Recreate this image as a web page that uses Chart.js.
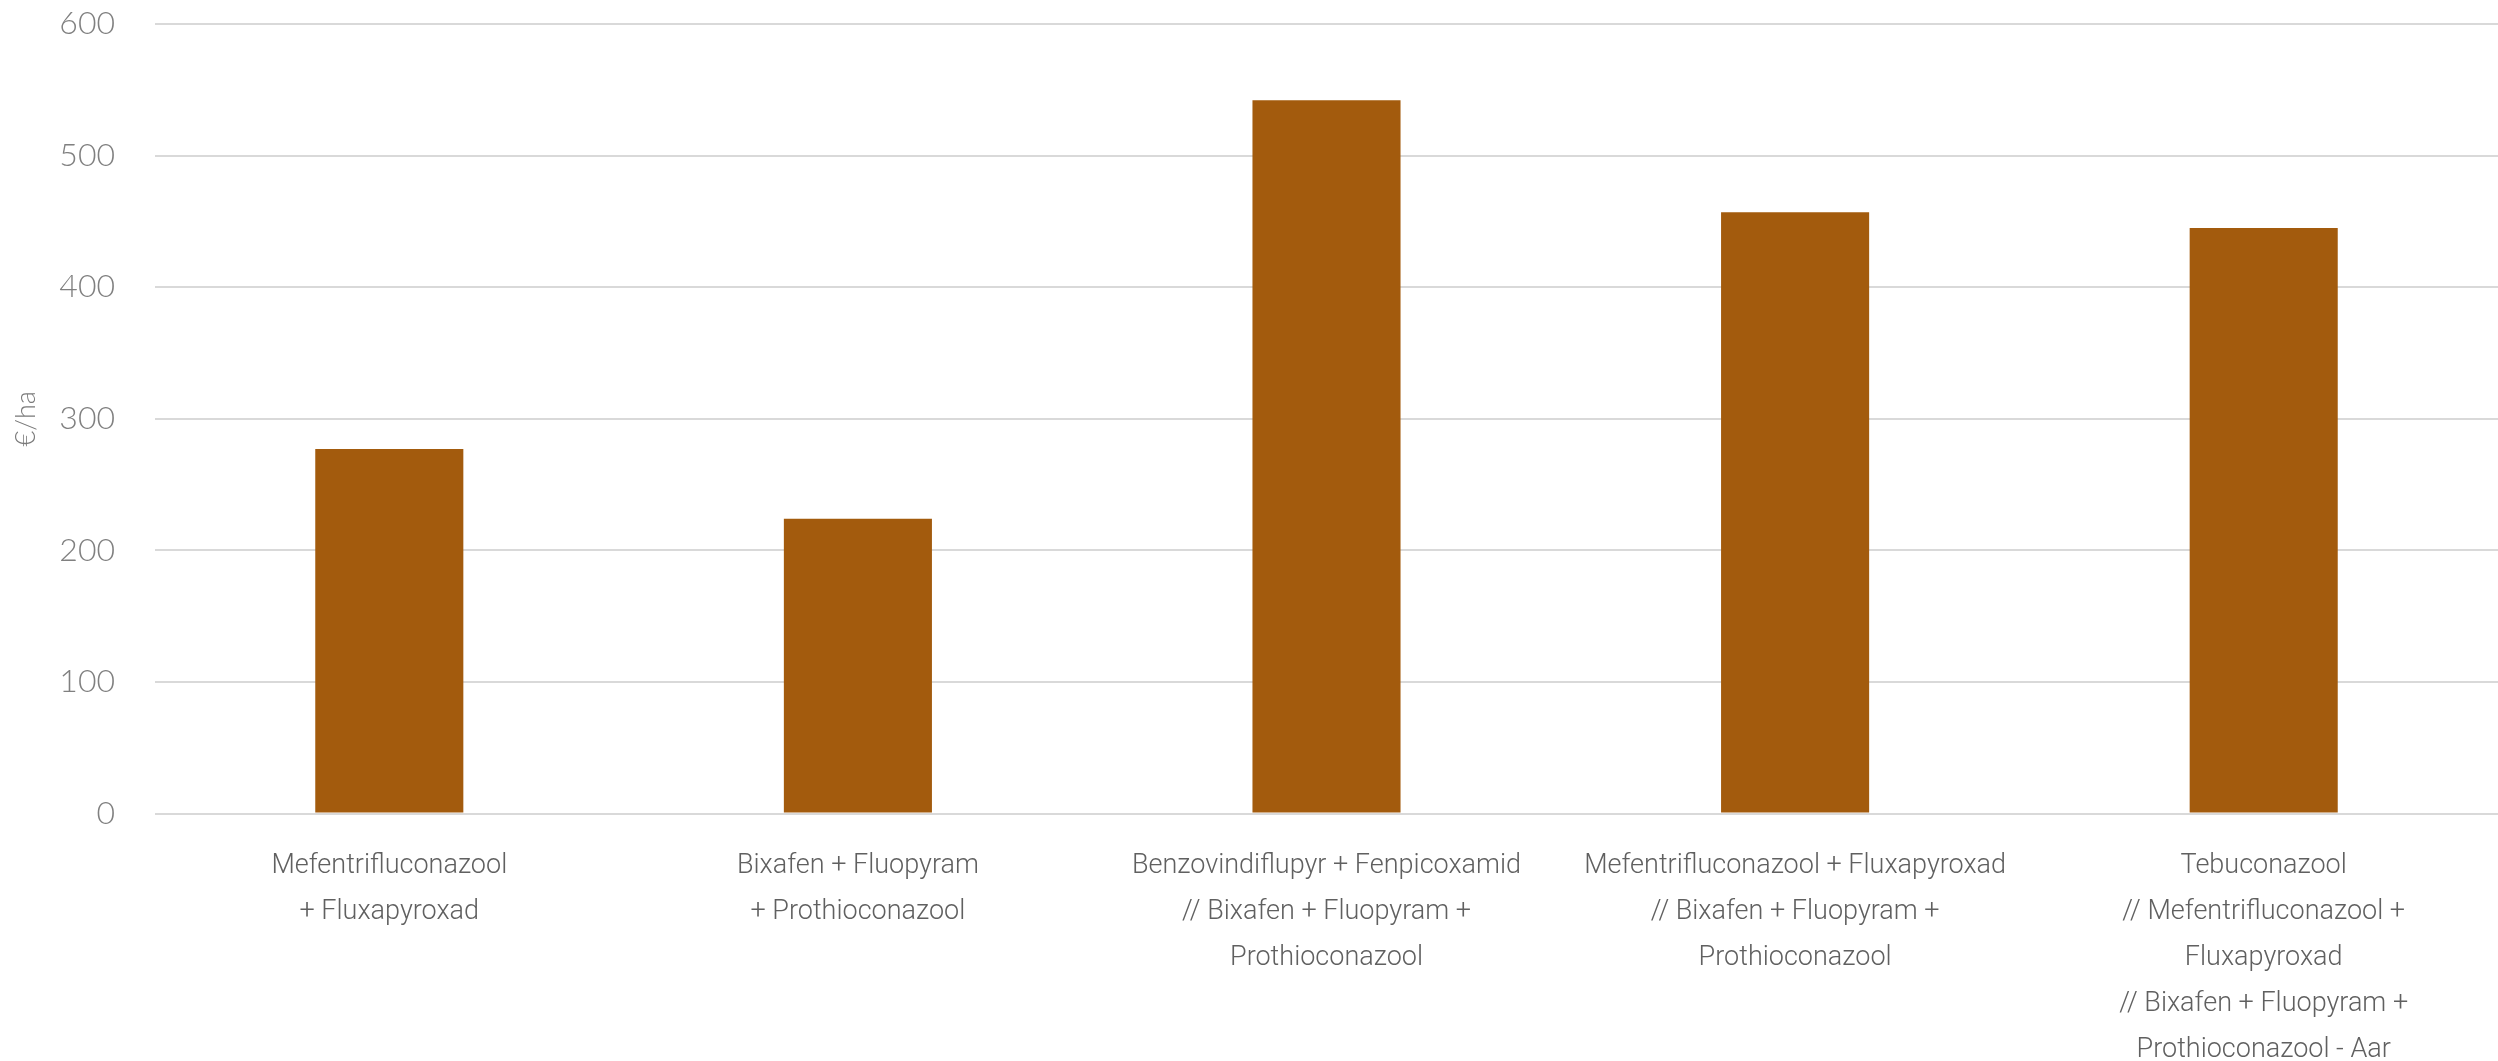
<!DOCTYPE html>
<html>
<head>
<meta charset="utf-8">
<script src="https://cdn.jsdelivr.net/npm/chart.js@4/dist/chart.umd.min.js"></script>
<style>
  body { margin: 0; background: #fff; }
</style>
</head>
<body>
<canvas id="myChart" width="2498" height="1061"></canvas>
<script>
const categories = [
    ["Mefentrifluconazool", "+ Fluxapyroxad"],
    ["Bixafen + Fluopyram", "+ Prothioconazool"],
    ["Benzovindiflupyr + Fenpicoxamid", "// Bixafen + Fluopyram +", "Prothioconazool"],
    ["Mefentrifluconazool + Fluxapyroxad", "// Bixafen + Fluopyram +", "Prothioconazool"],
    ["Tebuconazool", "// Mefentrifluconazool +", "Fluxapyroxad", "// Bixafen + Fluopyram +", "Prothioconazool - Aar"]
];
const costs = [277, 224, 542, 457, 445];
const yTicks = [0, 100, 200, 300, 400, 500, 600];

const ctx = document.getElementById('myChart').getContext('2d');
new Chart(ctx, {
    type: 'bar',
    data: {
        labels: categories,
        datasets: [
            {
                data: costs,
                backgroundColor: '#a35b0d',
                categoryPercentage: 1,
                barPercentage: 0.316,
            },
        ],
    },
    options: {
        responsive: false,
        animation: false,
        layout: { padding: { top: 0, right: 0, left: 10, bottom: -42 } },
        plugins: {
            legend: { display: false },
            tooltip: { enabled: false },
        },
        scales: {
            y: {
                min: 0,
                max: 600,
                afterBuildTicks: (axis) => { axis.ticks = yTicks.map(v => ({ value: v })); },
                afterFit: (scale) => {
                    scale.width = 145;
                    scale.paddingTop = 24;
                },
                grid: { color: '#d9d9d9', lineWidth: 2, drawTicks: false },
                border: { display: false },
                ticks: {
                    padding: 40,
                    color: '#808080',
                    font: { family: 'Lato', size: 32, weight: 300 },
                },
                title: {
                    display: true,
                    text: '€/ha',
                    color: '#7a7a7a',
                    padding: { top: 0, bottom: 0 },
                    font: { family: 'Lato', size: 27, weight: 300 },
                },
            },
            x: {
                grid: { display: false, drawTicks: false },
                border: { display: false },
                ticks: {
                    padding: 30,
                    color: '#606060',
                    maxRotation: 0,
                    autoSkip: false,
                    font: { family: 'Roboto', size: 27, weight: 300, lineHeight: 1.7 },
                },
            },
        },
    },
});
</script>
</body>
</html>
